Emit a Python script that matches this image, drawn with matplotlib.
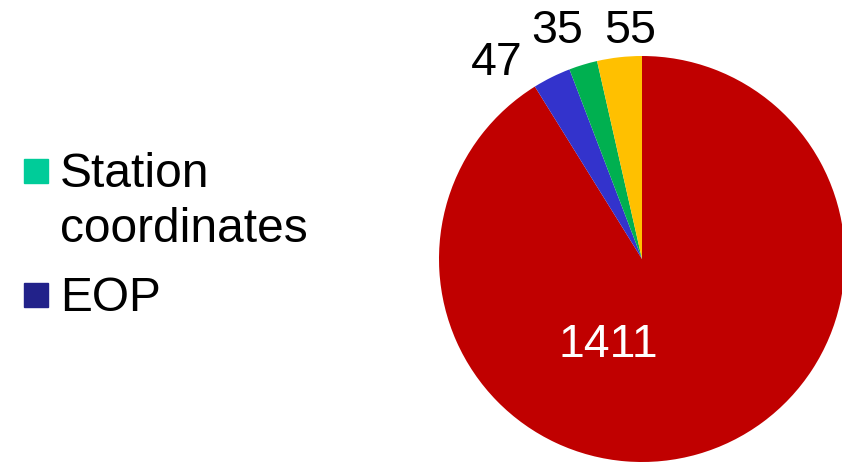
import matplotlib
matplotlib.use("Agg")
import matplotlib.pyplot as plt
from matplotlib.patches import Rectangle

plt.rcParams['font.family'] = ['Liberation Sans', 'DejaVu Sans']

# Pie data (clockwise from 12 o'clock)
slice_values = [1411, 47, 35, 55]
slice_colors = ['#C00000', '#3333CC', '#00B050', '#FFC000']
label_offsets = [(-0.167, -0.42), (-0.714, 0.97), (-0.419, 1.128), (-0.059, 1.128)]
label_colors = ['white', 'black', 'black', 'black']

# Legend entries
legend_labels = ['Station\ncoordinates', 'EOP']
legend_colors = ['#00CC99', '#22228A']

W, H = 842, 464
fig = plt.figure(figsize=(W / 100, H / 100), dpi=100)

cx, cy, r = 642, 204, 203
ax = fig.add_axes([(cx - r) / W, (cy - r) / H, 2 * r / W, 2 * r / H])
wedges, _ = ax.pie(slice_values, colors=slice_colors, startangle=90,
                   counterclock=False, radius=1.0,
                   wedgeprops=dict(linewidth=0))
for w in wedges:
    w.set_clip_on(False)
ax.set_xlim(-1, 1)
ax.set_ylim(-1, 1)
ax.set_aspect('equal')
ax.axis('off')

for v, (dx, dy), c in zip(slice_values, label_offsets, label_colors):
    ax.text(dx, dy, str(v), ha='center', va='center', fontsize=33.5, color=c,
            clip_on=False)

# Legend drawn in figure pixel coordinates
legend_rows = [(172, 175), (296, 299)]  # (square centre y, first text line centre y)
sq = 24
for lab, col, (sy, ty) in zip(legend_labels, legend_colors, legend_rows):
    fig.patches.append(Rectangle((24 / W, (H - sy - sq / 2) / H), sq / W, sq / H,
                                 transform=fig.transFigure, color=col))
    fig.text(60 / W, (H - ty + 23) / H, lab, ha='left', va='top',
             fontsize=34.5, color='black', linespacing=1.3)

fig.savefig('out.png', dpi=100)
